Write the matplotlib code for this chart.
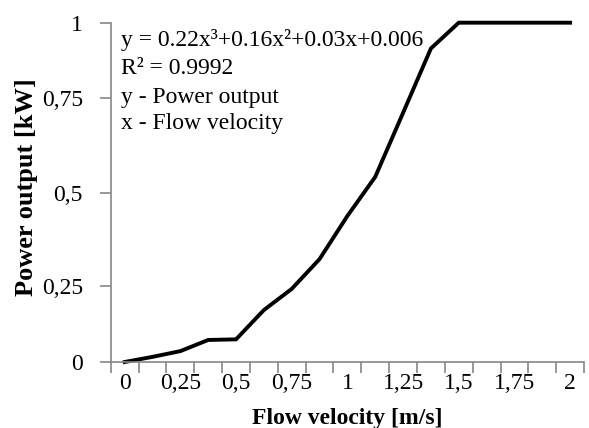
import matplotlib
matplotlib.use("Agg")
import matplotlib.pyplot as plt
import numpy as np

plt.rcParams['font.family'] = ['Liberation Serif', 'DejaVu Serif']

# flow velocity categories [m/s] and power output [kW]
velocity = [0, 0.125, 0.25, 0.375, 0.5, 0.625, 0.75, 0.875, 1,
            1.125, 1.25, 1.375, 1.5, 1.625, 1.75, 1.875, 2]
power = [0.0, 0.017, 0.036, 0.073, 0.075, 0.172, 0.242, 0.323, 0.438,
         0.542, 0.712, 0.915, 1.0, 1.0, 1.0, 1.0, 1.0]

y_ticks = [0, 0.25, 0.5, 0.75, 1]
y_ticklabels = ["0", "0,25", "0,5", "0,75", "1"]

fit_text = "y = 0.22x³+0.16x²+0.03x+0.006"
r2_text = "R² = 0.9992"
legend_lines = ["y - Power output", "x - Flow velocity"]

grey = "#868686"
fs = 17

fig = plt.figure(figsize=(5.89, 4.28), dpi=100)
ax = fig.add_axes([0.188, 0.1542, 0.8036, 0.7928])

# value axis is unevenly spaced between the gridlines
yk = [-1, 0, 0.25, 0.5, 0.75, 1, 2]
pk = [-302, 0, 75.5, 169.3, 263.5, 339.3, 642.5]
ax.set_yscale('function', functions=(lambda v: np.interp(v, yk, pk),
                                     lambda p: np.interp(p, pk, yk)))

idx = np.arange(len(velocity))
ax.plot(idx, power, color="black", lw=2.8, solid_joinstyle='miter', clip_on=False)

ax.set_xlim(-0.5, len(velocity) - 0.5)
ax.set_ylim(0, 1)

# category axis: ticks between categories, every other category labelled
ax.set_xticks(np.arange(-0.5, len(velocity), 1))
ax.set_xticklabels([])
lab_idx = idx[::2]
ax.set_xticks(lab_idx, [f"{velocity[i]:g}".replace('.', ',') for i in lab_idx], minor=True)
ax.tick_params(axis='x', which='major', direction='out', length=8, width=1.2, color=grey)
ax.tick_params(axis='x', which='minor', length=0, pad=8, labelsize=fs)

ax.set_yticks(y_ticks, y_ticklabels)
ax.tick_params(axis='y', direction='out', length=8, width=1.2, color=grey, pad=12, labelsize=fs)

for side in ['top', 'right']:
    ax.spines[side].set_visible(False)
for side in ['left', 'bottom']:
    ax.spines[side].set_color(grey)
    ax.spines[side].set_linewidth(1.2)

ax.set_xlabel("Flow velocity [m/s]", fontsize=fs, fontweight='bold')
ax.xaxis.set_label_coords(0.5, -0.167)
ax.xaxis.label.set_va('center')
ax.set_ylabel("Power output [kW]", fontsize=19, fontweight='bold')
ax.yaxis.set_label_coords(-0.178, 0.516)
ax.yaxis.label.set_va('center')

tx = 121 / 589
for text, ypix in [(fit_text, 40), (r2_text, 68),
                   (legend_lines[0], 97), (legend_lines[1], 124)]:
    fig.text(tx, (428 - ypix) / 428, text, fontsize=fs, va='center', ha='left')

fig.savefig("out.png", dpi=100)
